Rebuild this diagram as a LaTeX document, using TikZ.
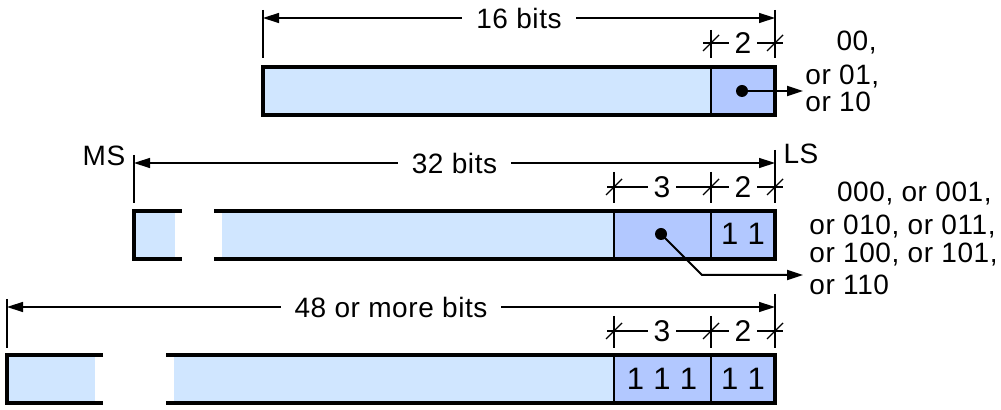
\documentclass[tikz,border=0pt]{standalone}
\usepackage{fontspec}
\setmainfont{Liberation Sans}[LetterSpace=2]
\usepackage{tikz}
\usetikzlibrary{arrows.meta, positioning}
\definecolor{fieldlight}{RGB}{208,230,255}
\definecolor{fielddark}{RGB}{178,200,255}
\tikzset{
  border/.style={line width=2pt},
  divider/.style={line width=0.7pt},
  dimline/.style={line width=0.7pt},
  extline/.style={line width=0.7pt},
  dimarrow/.style={dimline, {Triangle[length=8pt,width=5pt]}-{Triangle[length=8pt,width=5pt]}},
  ptrarrow/.style={line width=1pt, -{Triangle[length=8pt,width=5pt]}},
  dimlabel/.style={fill=white, inner xsep=7pt, inner ysep=1pt},
  smlabel/.style={fill=white, inner xsep=3pt, inner ysep=1pt, font=\fontsize{15}{17}\selectfont},
  bits/.style={font=\fontsize{15.5}{17}\selectfont},
  vals/.style={inner sep=0pt, text height=10pt, text depth=2.8pt},
  slash/.pic={\draw[dimline] (-8,8) -- (8,-8);}
}

\begin{document}
\begin{tikzpicture}[x=0.5pt, y=-0.5pt, font=\fontsize{14}{16}\selectfont]
  \useasboundingbox (0,0) rectangle (1001,410);

  % 16-bit form
  \fill[fieldlight] (263,67) rectangle (711,115);
  \fill[fielddark] (711,67) rectangle (775,115);
  \draw[divider] (711,67) -- (711,115);
  \draw[border] (263,67) rectangle (775,115);
  \draw[extline] (263,10) -- (263,58);
  \draw[extline] (775,10) -- (775,58);
  \draw[extline] (711,30) -- (711,58);
  \coordinate (s1) at (263,18);
  \coordinate (e1) at (775,18);
  \draw[dimarrow] (s1) -- node[dimlabel] (w1) {16 bits} (e1);
  \draw[dimline] (703,43) -- (783,43);
  \foreach \x in {711,775} \pic at (\x,43) {slash};
  \node[smlabel] (f1) at (743,43) {2};
  \coordinate (d1) at (742,91);
  \coordinate (t1) at (803,91);
  \fill (d1) circle (3pt);
  \draw[ptrarrow] (d1) -- (t1);
  \node[vals, anchor=east] (v1a) at (877,43) {00,};
  \node[vals, anchor=west] (v1b) at (805,77) {or 01,};
  \node[vals, anchor=west] (v1c) at (805,104) {or 10};

  % 32-bit form
  \node (ms) at (104,156) {MS};
  \node (ls) at (801,154) {LS};
  \fill[fieldlight] (134,211) rectangle (175,259);
  \fill[fieldlight] (222,211) rectangle (614,259);
  \fill[fielddark] (614,211) rectangle (775,259);
  \draw[divider] (614,211) -- (614,259);
  \draw[divider] (711,211) -- (711,259);
  \draw[border] (182,211) -- (134,211) -- (134,259) -- (182,259);
  \draw[border] (214,211) -- (775,211) -- (775,259) -- (214,259);
  \draw[extline] (134,155) -- (134,203);
  \draw[extline] (775,150) -- (775,203);
  \foreach \x in {614,711} \draw[extline] (\x,172) -- (\x,203);
  \coordinate (s2) at (134,163);
  \coordinate (e2) at (775,163);
  \draw[dimarrow] (s2) -- node[dimlabel] (w2) {32 bits} (e2);
  \draw[dimline] (607,187) -- (783,187);
  \foreach \x in {614,711,775} \pic at (\x,187) {slash};
  \node[smlabel] (g2) at (662,187) {3};
  \node[smlabel] (f2) at (743,187) {2};
  \node[bits] (b2) at (743,234) {1 1};
  \coordinate (d2) at (661,234);
  \coordinate (k2) at (702,275);
  \coordinate (t2) at (803,275);
  \fill (d2) circle (3pt);
  \draw[ptrarrow] (d2) -- (k2) -- (t2);
  \node[vals, anchor=east] (v2a) at (992,194) {000, or 001,};
  \node[vals, anchor=west] (v2b) at (809,227) {or 010, or 011,};
  \node[vals, anchor=west] (v2c) at (809,255) {or 100, or 101,};
  \node[vals, anchor=west] (v2d) at (809,287) {or 110};

  % 48-bit form
  \fill[fieldlight] (7,355) rectangle (95,403);
  \fill[fieldlight] (174,355) rectangle (614,403);
  \fill[fielddark] (614,355) rectangle (775,403);
  \draw[divider] (614,355) -- (614,403);
  \draw[divider] (711,355) -- (711,403);
  \draw[border] (103,355) -- (7,355) -- (7,403) -- (103,403);
  \draw[border] (166,355) -- (775,355) -- (775,403) -- (166,403);
  \draw[extline] (7,299) -- (7,348);
  \draw[extline] (775,294) -- (775,348);
  \foreach \x in {614,711} \draw[extline] (\x,316) -- (\x,348);
  \coordinate (s3) at (7,307);
  \coordinate (e3) at (775,307);
  \draw[dimarrow] (s3) -- node[dimlabel] (w3) {48 or more bits} (e3);
  \draw[dimline] (607,331) -- (783,331);
  \foreach \x in {614,711,775} \pic at (\x,331) {slash};
  \node[smlabel] (g3) at (662,331) {3};
  \node[smlabel] (f3) at (743,331) {2};
  \node[bits] (a3) at (662,379) {1 1 1};
  \node[bits] (b3) at (743,379) {1 1};
\end{tikzpicture}
\end{document}
